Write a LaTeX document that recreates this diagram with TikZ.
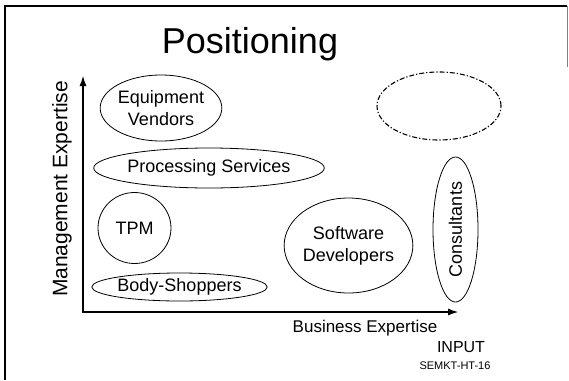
\documentclass[tikz,border=0pt]{standalone}
\usepackage{fontspec}
\setmainfont{Liberation Sans}
\usepackage{tikz}
\usetikzlibrary{shapes.geometric, arrows.meta}

\begin{document}
\begin{tikzpicture}[x=1pt, y=-1pt,
		seg/.style={draw, ellipse, thick, inner sep=0pt, align=center, font=\fontsize{18}{22}\selectfont},
		lbl/.style={inner sep=0pt, align=center}]
		
		\useasboundingbox (0,0) rectangle (569,380);
		
		% frame
		\coordinate (fbl) at (5,380);
		\coordinate (ftl) at (5,6);
		\coordinate (ftr) at (567,6);
		\coordinate (fbr) at (567,67);
		\draw[line width=1.2pt] (fbl) -- (ftl) -- (ftr);
		\draw[gray, line width=1pt] (ftr) -- (fbr);
		
		\node[lbl, font=\fontsize{36}{40}\selectfont] (title) at (250,44) {Positioning};
		
		% axes
		\coordinate (ytop) at (83,75);
		\coordinate (origin) at (83,312);
		\coordinate (xend) at (459,312);
		\draw[{Latex[length=11pt,width=7pt]}-{Latex[length=11pt,width=7pt]}, line width=2pt] (ytop) -- (origin) -- (xend);
		
		\node[lbl, rotate=90, font=\fontsize{21}{24}\selectfont] (ylabel) at (62,189) {Management Expertise};
		\node[lbl, font=\fontsize{17}{20}\selectfont] (xlabel) at (365,328) {Business Expertise};
		\node[lbl, font=\fontsize{16}{18}\selectfont] (input) at (461,347) {INPUT};
		\node[lbl, font=\fontsize{11}{13}\selectfont] (code) at (455,366) {SEMKT-HT-16};
		
		% segments
		\node[seg, minimum width=121, minimum height=66] (equip) at (161,108) {Equipment\\Vendors};
		\node[seg, minimum width=228, minimum height=40] (proc) at (209,168) {Processing Services};
		\node[seg, minimum width=73, minimum height=71] (tpm) at (134.5,228) {TPM};
		\node[seg, minimum width=175, minimum height=28] (body) at (179.5,287) {Body-Shoppers};
		\node[seg, minimum width=127, minimum height=95] (soft) at (348.5,245.5) {Software\\Developers};
		\node[seg, minimum width=45, minimum height=145] (cons) at (455.5,229.5) {};
		\node[lbl, rotate=90, font=\fontsize{18}{22}\selectfont] (conslbl) at (cons) {Consultants};
		
		\node[draw, ellipse, line width=1.1pt, dash pattern=on 5pt off 2pt on 1.2pt off 2pt, minimum width=124, minimum height=68] (open) at (439,106) {};

\end{tikzpicture}
\end{document}
